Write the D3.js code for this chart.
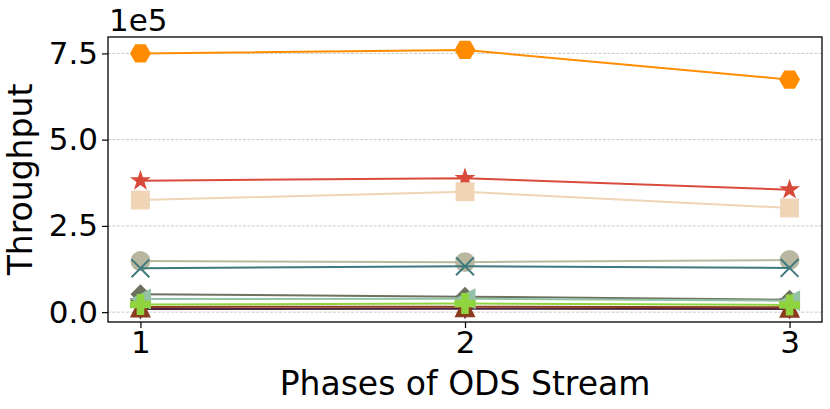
<!DOCTYPE html>
<html>
<head>
<meta charset="utf-8">
<script src="https://cdn.jsdelivr.net/npm/d3@7"></script>
<style>
  body { margin: 0; background: #fff; }
  text { font-family: "DejaVu Sans", sans-serif; fill: #000; }
</style>
</head>
<body>
<div id="chart"></div>
<script>
var svgWidth = 830;
var svgHeight = 409;

var margin = { top: 37, right: 8, bottom: 87, left: 108 };
var width = svgWidth - margin.left - margin.right;
var height = svgHeight - margin.top - margin.bottom;

// data (throughput, units of 1e5)
var phases = [1, 2, 3];
var yTicks = [0, 2.5, 5.0, 7.5];

var orangeHex = [7.50, 7.60, 6.74];
var redStar = [3.81, 3.88, 3.55];
var wheatSquare = [3.25, 3.49, 3.02];
var beigeCircle = [1.48, 1.45, 1.51];
var tealX = [1.27, 1.33, 1.28];
var purpleTriDown = [0.09, 0.10, 0.09];
var brownTriUp = [0.15, 0.16, 0.14];
var grayDiamond = [0.52, 0.45, 0.36];
var mintTriLeft = [0.38, 0.39, 0.33];
var greenPlus = [0.22, 0.25, 0.21];

var series = [
  { values: orangeHex, color: "#ff8c00", marker: "hexagon" },
  { values: redStar, color: "#d84b3a", marker: "star" },
  { values: wheatSquare, color: "#efd4b5", marker: "square" },
  { values: beigeCircle, color: "#bab7a1", marker: "circle" },
  { values: tealX, color: "#3e7a7d", marker: "x" },
  { values: purpleTriDown, color: "#4a2540", marker: "triDown" },
  { values: brownTriUp, color: "#8b3b1e", marker: "triUp" },
  { values: grayDiamond, color: "#6b725e", marker: "diamond" },
  { values: mintTriLeft, color: "#93c2a6", marker: "triLeft" },
  { values: greenPlus, color: "#8fd43e", marker: "plus" }
];

var svg = d3.select("#chart").append("svg")
  .attr("width", svgWidth)
  .attr("height", svgHeight);

var chartGroup = svg.append("g")
  .attr("transform", `translate(${margin.left}, ${margin.top})`);

// matplotlib style 5% margins
var allVals = series.flatMap(s => s.values);
var yMin = d3.min(allVals), yMax = d3.max(allVals);
var pad = (yMax - yMin) * 0.05;

var xScale = d3.scaleLinear().domain([0.9, 3.1]).range([0, width]);
var yScale = d3.scaleLinear().domain([yMin - pad, yMax + pad]).range([height, 0]);

// grid
chartGroup.selectAll(".grid")
  .data(yTicks)
  .enter()
  .append("line")
  .attr("x1", 0)
  .attr("x2", width)
  .attr("y1", d => yScale(d))
  .attr("y2", d => yScale(d))
  .attr("stroke", "#bdbdbd")
  .attr("stroke-width", 0.8)
  .attr("stroke-dasharray", "3,1.5");

// marker paths, size r ~ half width
function markerPath(type, r) {
  var p = d3.path();
  if (type === "hexagon") {
    for (var i = 0; i < 6; i++) {
      var a = Math.PI / 3 * i;
      var x = r * Math.cos(a), y = r * Math.sin(a);
      if (i === 0) p.moveTo(x, y); else p.lineTo(x, y);
    }
    p.closePath();
    return p.toString();
  }
  if (type === "star") {
    for (var i = 0; i < 10; i++) {
      var rr = i % 2 === 0 ? r * 1.05 : r * 0.4;
      var a = -Math.PI / 2 + Math.PI / 5 * i;
      var x = rr * Math.cos(a), y = rr * Math.sin(a);
      if (i === 0) p.moveTo(x, y); else p.lineTo(x, y);
    }
    p.closePath();
    return p.toString();
  }
  if (type === "square") {
    var s = r * 0.9;
    return `M${-s},${-s}H${s}V${s}H${-s}Z`;
  }
  if (type === "circle") {
    p.arc(0, 0, r * 0.95, 0, 2 * Math.PI);
    return p.toString();
  }
  if (type === "x") {
    var s = r * 0.85;
    return `M${-s},${-s}L${s},${s}M${-s},${s}L${s},${-s}`;
  }
  if (type === "triUp") return `M0,${-r}L${r},${r}L${-r},${r}Z`;
  if (type === "triDown") return `M0,${r}L${r},${-r}L${-r},${-r}Z`;
  if (type === "triLeft") return `M${-r},0L${r},${-r}L${r},${r}Z`;
  if (type === "diamond") {
    var s = r * 0.95;
    return `M0,${-s}L${s},0L0,${s}L${-s},0Z`;
  }
  if (type === "plus") {
    var a = r, b = r * 0.36;
    return `M${-b},${-a}H${b}V${-b}H${a}V${b}H${b}V${a}H${-b}V${b}H${-a}V${-b}H${-b}Z`;
  }
}

var line = d3.line()
  .x((d, i) => xScale(phases[i]))
  .y(d => yScale(d));

series.forEach(function(s) {
  var g = chartGroup.append("g");
  g.append("path")
    .datum(s.values)
    .attr("d", line)
    .attr("fill", "none")
    .attr("stroke", s.color)
    .attr("stroke-width", 2);

  g.selectAll(".mk")
    .data(s.values)
    .enter()
    .append("path")
    .attr("transform", (d, i) => `translate(${xScale(phases[i])},${yScale(d)})`)
    .attr("d", markerPath(s.marker, 10.5))
    .attr("fill", s.marker === "x" ? "none" : s.color)
    .attr("stroke", s.color)
    .attr("stroke-width", s.marker === "x" ? 2 : 0);
});

// axes
var bottomAxis = d3.axisBottom(xScale).tickValues(phases).tickFormat(d3.format("d")).tickSize(6);
var leftAxis = d3.axisLeft(yScale).tickValues(yTicks).tickFormat(d3.format(".1f")).tickSize(6);

var xAxis = chartGroup.append("g")
  .attr("transform", `translate(0, ${height})`)
  .call(bottomAxis);
var yAxis = chartGroup.append("g").call(leftAxis);

[xAxis, yAxis].forEach(function(ax) {
  ax.select(".domain").remove();
  ax.selectAll("line").attr("stroke", "#000").attr("stroke-width", 1.2);
  ax.selectAll("text").style("font-size", "31px").style("font-family", "DejaVu Sans");
});
xAxis.selectAll("text").attr("y", 9);
yAxis.selectAll("text").attr("x", -10);

// frame
chartGroup.append("rect")
  .attr("width", width)
  .attr("height", height)
  .attr("fill", "none")
  .attr("stroke", "#000")
  .attr("stroke-width", 1.3);

// offset text
chartGroup.append("text")
  .attr("x", 1)
  .attr("y", -6)
  .style("font-size", "31px")
  .text("1e5");

// labels
chartGroup.append("text")
  .attr("x", width / 2)
  .attr("y", height + 73)
  .attr("text-anchor", "middle")
  .style("font-size", "33px")
  .text("Phases of ODS Stream");

chartGroup.append("text")
  .attr("transform", "rotate(-90)")
  .attr("x", -height / 2)
  .attr("y", -76)
  .attr("text-anchor", "middle")
  .style("font-size", "33px")
  .text("Throughput");
</script>
</body>
</html>
